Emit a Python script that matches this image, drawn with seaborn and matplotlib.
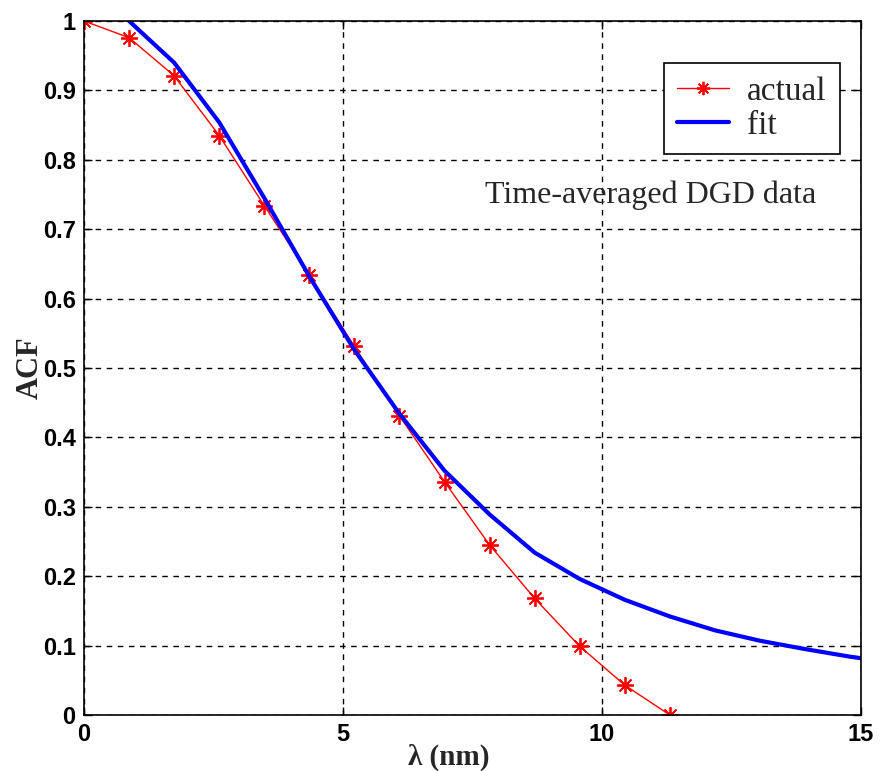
import matplotlib
matplotlib.use("Agg")
import matplotlib.pyplot as plt
import seaborn as sns
import pandas as pd
import numpy as np

# data
actual_x = [0.0, 0.87, 1.74, 2.61, 3.48, 4.35, 5.22, 6.09, 6.96, 7.83, 8.70, 9.57, 10.44, 11.31]
actual_y = [1.0, 0.976, 0.921, 0.835, 0.734, 0.634, 0.531, 0.431, 0.336, 0.245, 0.168, 0.099, 0.043, 0.0]
fit_x = [0.87, 1.74, 2.61, 3.48, 4.35, 5.22, 6.09, 6.96, 7.83, 8.70, 9.57, 10.44, 11.31, 12.18, 13.05, 13.92, 14.79, 15.66]
fit_y = [1.0, 0.940, 0.854, 0.745, 0.632, 0.526, 0.434, 0.352, 0.289, 0.234, 0.196, 0.166, 0.142, 0.122, 0.107, 0.095, 0.084, 0.075]
x_ticks = [0, 5, 10, 15]
y_ticks = [0, 0.1, 0.2, 0.3, 0.4, 0.5, 0.6, 0.7, 0.8, 0.9, 1]
y_ticklabels = ["0", "0.1", "0.2", "0.3", "0.4", "0.5", "0.6", "0.7", "0.8", "0.9", "1"]

sns.set_style("white")
plt.rcParams['font.family'] = ['Liberation Serif', 'DejaVu Serif']
SERIF = ['Liberation Serif', 'DejaVu Serif']

fig = plt.figure(figsize=(8.82, 7.71), dpi=100)
ax = fig.add_axes([84/882, 1-715/771, (861-84)/882, (715-21)/771])

df_a = pd.DataFrame({"x": actual_x, "y": actual_y})
df_f = pd.DataFrame({"x": fit_x, "y": fit_y})

sns.lineplot(data=df_a, x="x", y="y", ax=ax, color="#ff0000", linewidth=1.0,
             marker=(8, 2, 0), markersize=12, markeredgewidth=1.3, markeredgecolor="#ff0000",
             label="actual", sort=False)
sns.lineplot(data=df_f, x="x", y="y", ax=ax, color="#0000ff", linewidth=3.0,
             label="fit", sort=False)

ax.set_xlim(0, 15)
ax.set_ylim(0, 1)
ax.set_xticks(x_ticks)
ax.set_yticks(y_ticks)
ax.set_xticklabels([str(t) for t in x_ticks], fontfamily="Liberation Sans", fontweight="bold", fontsize=17)
ax.set_yticklabels(y_ticklabels, fontfamily="Liberation Sans", fontweight="bold", fontsize=17)
ax.tick_params(direction="in", length=6, width=1, colors="black", pad=6,
               top=True, right=True, bottom=True, left=True)
ax.grid(True, color="black", linestyle=(0, (4, 4)), linewidth=1.0)
for s in ax.spines.values():
    s.set_color("black")
    s.set_linewidth(1.2)

ax.set_xlabel("λ (nm)", fontsize=21, fontweight="bold", family=SERIF, va="center")
ax.set_ylabel("ACF", fontsize=22, fontweight="bold", family=SERIF, va="center")
ax.xaxis.set_label_coords(0.47, -(757-715)/694)
ax.yaxis.set_label_coords(-(84-30)/777, 0.5)

ax.text(7.74, 0.749, "Time-averaged DGD data", fontsize=23, va="center", ha="left",
        family=SERIF)

leg = ax.legend(loc="upper right", bbox_to_anchor=((840-84)/777, 1-(63-21)/694),
                prop={"family": "Liberation Serif", "size": 24}, frameon=True,
                fancybox=False, edgecolor="black", framealpha=1, handlelength=1.55,
                borderpad=0.4, labelspacing=0.1, handletextpad=0.55, borderaxespad=0,
                markerscale=0.8)
leg.get_frame().set_linewidth(1.2)

fig.savefig("out.png", dpi=100, facecolor="white")
